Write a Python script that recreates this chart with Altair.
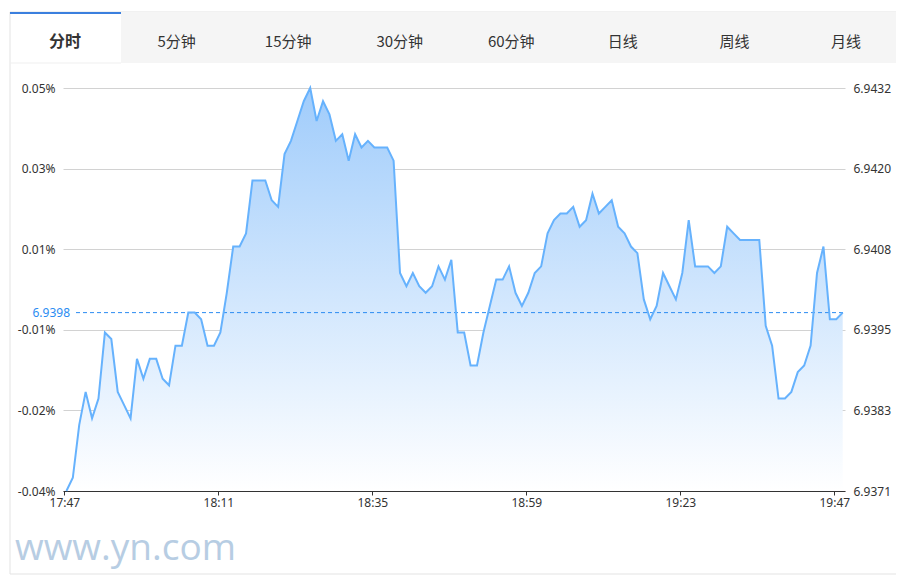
import altair as alt
import pandas as pd

# ---------------- data ----------------
time_labels = ["17:47", "18:11", "18:35", "18:59", "19:23", "19:47"]
prices = [
    6.9371, 6.9373, 6.9381, 6.9386, 6.9382, 6.9385, 6.9395, 6.9394, 6.9386, 6.9384,
    6.9382, 6.9391, 6.9388, 6.9391, 6.9391, 6.9388, 6.9387, 6.9393, 6.9393, 6.9398,
    6.9398, 6.9397, 6.9393, 6.9393, 6.9395, 6.9401, 6.9408, 6.9408, 6.9410, 6.9418,
    6.9418, 6.9418, 6.9415, 6.9414, 6.9422, 6.9424, 6.9427, 6.9430, 6.9432, 6.9427,
    6.9430, 6.9428, 6.9424, 6.9425, 6.9421, 6.9425, 6.9423, 6.9424, 6.9423, 6.9423,
    6.9423, 6.9421, 6.9404, 6.9402, 6.9404, 6.9402, 6.9401, 6.9402, 6.9405, 6.9403,
    6.9406, 6.9395, 6.9395, 6.9390, 6.9390, 6.9395, 6.9399, 6.9403, 6.9403, 6.9405,
    6.9401, 6.9399, 6.9401, 6.9404, 6.9405, 6.9410, 6.9412, 6.9413, 6.9413, 6.9414,
    6.9411, 6.9412, 6.9416, 6.9413, 6.9414, 6.9415, 6.9411, 6.9410, 6.9408, 6.9407,
    6.9400, 6.9397, 6.9399, 6.9404, 6.9402, 6.9400, 6.9404, 6.9412, 6.9405, 6.9405,
    6.9405, 6.9404, 6.9405, 6.9411, 6.9410, 6.9409, 6.9409, 6.9409, 6.9409, 6.9396,
    6.9393, 6.9385, 6.9385, 6.9386, 6.9389, 6.9390, 6.9393, 6.9404, 6.9408, 6.9397,
    6.9397, 6.9398,
]
base_price = 6.9398
y_min, y_max = 6.9371, 6.9432
y_ticks = [6.9371, 6.93832, 6.93954, 6.94076, 6.94198, 6.9432]
right_labels = ["6.9371", "6.9383", "6.9395", "6.9408", "6.9420", "6.9432"]
left_labels = ["-0.04%", "-0.02%", "-0.01%", "0.01%", "0.03%", "0.05%"]
tabs = ["分时", "5分钟", "15分钟", "30分钟", "60分钟", "日线", "周线", "月线"]

df = pd.DataFrame({"i": list(range(len(prices))), "price": prices})
one = pd.DataFrame({"a": [0]})
tab_df = pd.DataFrame({"tab": tabs[1:]})

W, H = 782, 403
FONT = "Noto Sans"
CJK = "Noto Sans CJK SC"

xscale = alt.Scale(domain=[-0.53, 121.36], nice=False, zero=False)
yscale = alt.Scale(domain=[y_min, y_max], nice=False, zero=False)

def js_list(vals):
    return "[" + ",".join("'" + v + "'" for v in vals) + "]"

step = (y_max - y_min) / 5
left_expr = js_list(left_labels) + f"[round((datum.value-{y_min})/{step})]"
right_expr = js_list(right_labels) + f"[round((datum.value-{y_min})/{step})]"
x_expr = js_list(time_labels) + "[round(datum.value/24)]"

x_axis = alt.Axis(values=[0, 24, 48, 72, 96, 120], labelExpr=x_expr, grid=False,
                  domainColor="#333333", tickColor="#333333", tickSize=4,
                  labelColor="#333333", labelFontSize=12, labelFont=FONT,
                  labelPadding=2, tickOffset=-2, title=None, labelFlush=False)

left_axis = alt.Axis(orient="left", values=y_ticks, labelExpr=left_expr, grid=True,
                     gridColor="#d2d2d2", domain=False, ticks=False,
                     labelColor="#333333", labelFontSize=12, labelFont=FONT,
                     labelPadding=8, title=None)
right_axis = alt.Axis(orient="right", values=y_ticks, labelExpr=right_expr, grid=False,
                      domain=False, ticks=False,
                      labelColor="#333333", labelFontSize=12, labelFont=FONT,
                      labelPadding=8, title=None)

# ---------------- decorations ----------------
border = alt.Chart(one).mark_rect(fill="transparent", stroke="#e3e3e3", strokeWidth=1).encode(
    x=alt.value(-53), x2=alt.value(835), y=alt.value(-76), y2=alt.value(486))
tabbar = alt.Chart(one).mark_rect(fill="#f5f5f5").encode(
    x=alt.value(58), x2=alt.value(835), y=alt.value(-76), y2=alt.value(-25))
active_line = alt.Chart(one).mark_rect(fill="#3b7fde").encode(
    x=alt.value(-53), x2=alt.value(58), y=alt.value(-76), y2=alt.value(-74))
tab_sep = alt.Chart(one).mark_rule(color="#efefef").encode(
    x=alt.value(-53), x2=alt.value(58), y=alt.value(-25))
active_text = alt.Chart(one).mark_text(font=CJK, fontSize=16, fontWeight="bold",
                                       color="#333333", baseline="middle", align="center").encode(
    x=alt.value(2), y=alt.value(-46), text=alt.value(tabs[0]))
tab_text = alt.Chart(tab_df).mark_text(font=CJK, fontSize=15, color="#333333",
                                      baseline="middle", align="center").transform_window(
    k="row_number()").transform_calculate(tx="2 + 111.57*datum.k").encode(
    x=alt.X("tx:Q", scale=None), y=alt.value(-46), text="tab:N")
watermark = alt.Chart(one).mark_text(font="Open Sans", fontSize=37, color="#b7cde3",
                                     align="left", baseline="alphabetic").encode(
    x=alt.value(-48), y=alt.value(472), text=alt.value("www.yn.com"))

# ---------------- data layers ----------------
gradient = alt.Gradient(gradient="linear",
                        stops=[alt.GradientStop(color="#a0ccfb", offset=0),
                               alt.GradientStop(color="#ffffff", offset=1)],
                        x1=1, x2=1, y1=0, y2=1)

area = alt.Chart(df).mark_area(color=gradient, opacity=1).encode(
    x=alt.X("i:Q", scale=xscale, axis=x_axis),
    y=alt.Y("price:Q", scale=yscale, axis=left_axis),
    y2=alt.datum(y_min))

line = alt.Chart(df).mark_line(color="#66b2fd", strokeWidth=2).encode(
    x=alt.X("i:Q", scale=xscale),
    y=alt.Y("price:Q", scale=yscale, axis=right_axis))

base_rule = alt.Chart(one).mark_rule(color="#2b8cf2", strokeDash=[4, 3], strokeWidth=1).encode(
    x=alt.value(13), x2=alt.value(782), y=alt.YDatum(base_price, axis=None))
base_label = alt.Chart(one).mark_text(color="#2b8cf2", fontSize=12, font=FONT,
                                      align="right", baseline="middle").encode(
    x=alt.value(7), y=alt.YDatum(base_price, axis=None), text=alt.value(f"{base_price:.4f}"))

chart = alt.layer(
    border, tabbar, active_line, tab_sep, active_text, tab_text, watermark,
    area, base_rule, line, base_label,
).properties(
    width=W, height=H,
    autosize=alt.AutoSizeParams(type="none"),
    padding={"left": 55, "top": 80, "right": 51, "bottom": 84},
    background="white",
).configure_view(strokeWidth=0)

chart.save("out.html", embed_options={"renderer": "svg", "actions": False})
